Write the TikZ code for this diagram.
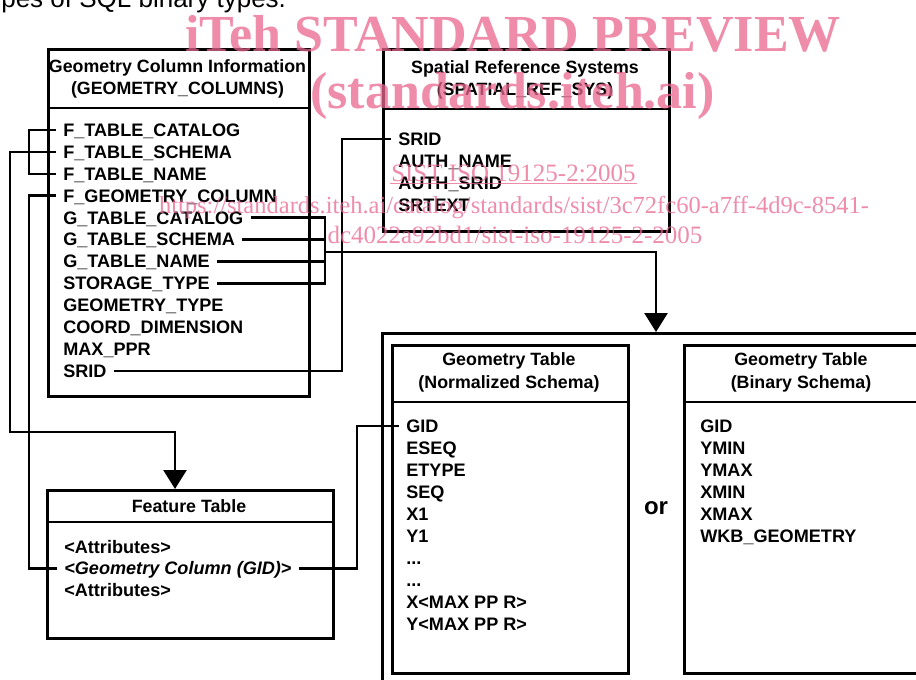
\documentclass[tikz,border=0pt]{standalone}
\usepackage{fontspec}
\setmainfont{Liberation Sans}
\newfontfamily\wmfont{Liberation Serif}
\usetikzlibrary{arrows.meta}
\definecolor{wmpink}{RGB}{232,102,142}
\begin{document}
\begin{tikzpicture}[x=1pt,y=-1pt,line width=2.6pt,
  box/.style={draw,line width=2.6pt,anchor=north west,inner sep=0pt},
  row/.style={anchor=west,inner xsep=6pt,inner ysep=0pt,text height=12.95pt,text depth=0pt,font=\fontsize{18.1}{22}\selectfont\bfseries},
  head/.style={anchor=center,inner sep=0pt,text height=12.74pt,text depth=0pt,font=\fontsize{17.8}{22}\selectfont\bfseries},
  conn/.style={line width=2.6pt},
  arr/.style={-{Triangle[width=23pt,length=19pt]}},
  wm/.style={text=wmpink,text opacity=0.75,inner sep=0pt,anchor=base}]
\useasboundingbox (0,0) rectangle (916,680);
\clip (0,0) rectangle (916,680);

% intro text (cut off at top)
\node[anchor=base west,inner sep=0pt,font=\fontsize{26}{30}\selectfont] (intro) at (0,7) {pes of SQL binary types.};

% ---------- boxes ----------
\node[box,minimum width=261pt,minimum height=347pt] (gc) at (47,48) {};
\draw (47,108) -- (308,108);
\node[box,minimum width=286pt,minimum height=182pt] (srs) at (382,48) {};
\draw (382,109) -- (668,109);
\node[box,minimum width=286pt,minimum height=148pt] (ft) at (46,489) {};
\draw (46,522) -- (332,522);
\node[box,minimum width=560pt,minimum height=380pt] (outer) at (381,332) {};
\node[box,minimum width=236pt,minimum height=328pt] (norm) at (391,344) {};
\draw (391,402) -- (627,402);
\node[box,minimum width=240pt,minimum height=328pt] (bin) at (683,344) {};
\draw (683,402) -- (923,402);

% ---------- headers ----------
\node[head] (gch1) at (177.5,66) {Geometry Column Information};
\node[head] (gch2) at (177.5,88) {(GEOMETRY\_COLUMNS)};
\node[head] (srsh1) at (525,67) {Spatial Reference Systems};
\node[head] (srsh2) at (525,89) {(SPATIAL\_REF\_SYS)};
\node[head] (fth) at (189,506) {Feature Table};
\node[head] (nh1) at (509,359) {Geometry Table};
\node[head] (nh2) at (509,382) {(Normalized Schema)};
\node[head] (bh1) at (801,359) {Geometry Table};
\node[head] (bh2) at (801,382) {(Binary Schema)};
\node[anchor=center,inner sep=0pt,text height=12.5pt,text depth=0pt,font=\fontsize{24}{28}\selectfont\bfseries] (or) at (656,508) {or};

% ---------- GEOMETRY_COLUMNS rows ----------
\node[row] (f1) at (56,130) {F\_TABLE\_CATALOG};
\node[row] (f2) at (56,151.9) {F\_TABLE\_SCHEMA};
\node[row] (f3) at (56,173.8) {F\_TABLE\_NAME};
\node[row] (f4) at (56,195.7) {F\_GEOMETRY\_COLUMN};
\node[row] (g1) at (56,217.6) {G\_TABLE\_CATALOG};
\node[row] (g2) at (56,239.5) {G\_TABLE\_SCHEMA};
\node[row] (g3) at (56,261.4) {G\_TABLE\_NAME};
\node[row] (g4) at (56,283.3) {STORAGE\_TYPE};
\node[row] (g5) at (56,305.2) {GEOMETRY\_TYPE};
\node[row] (g6) at (56,327.1) {COORD\_DIMENSION};
\node[row] (g7) at (56,349) {MAX\_PPR};
\node[row] (g8) at (56,370.9) {SRID};

% ---------- SPATIAL_REF_SYS rows ----------
\node[row] (s1) at (391,139) {SRID};
\node[row] (s2) at (391,161) {AUTH\_NAME};
\node[row] (s3) at (391,183) {AUTH\_SRID};
\node[row] (s4) at (391,205) {SRTEXT};

% ---------- Feature table rows ----------
\node[row] (a1) at (57,547) {<Attributes>};
\node[row] (a2) at (57,568.5) {{\itshape <Geometry Column (GID)}>};
\node[row] (a3) at (57,590) {<Attributes>};

% ---------- Normalized rows ----------
\node[row] (n1) at (399,426) {GID};
\node[row] (n2) at (399,448) {ESEQ};
\node[row] (n3) at (399,470) {ETYPE};
\node[row] (n4) at (399,492) {SEQ};
\node[row] (n5) at (399,514) {X1};
\node[row] (n6) at (399,536) {Y1};
\node[row] (n7) at (399,558) {...};
\node[row] (n8) at (399,580) {...};
\node[row] (n9) at (399,602) {X<MAX PP R>};
\node[row] (n10) at (399,624) {Y<MAX PP R>};

% ---------- Binary rows ----------
\node[row] (b1) at (693,426) {GID};
\node[row] (b2) at (693,448) {YMIN};
\node[row] (b3) at (693,470) {YMAX};
\node[row] (b4) at (693,492) {XMIN};
\node[row] (b5) at (693,514) {XMAX};
\node[row] (b6) at (693,536) {WKB\_GEOMETRY};

% ---------- connectors ----------
\coordinate (ftin) at (175,489);
\coordinate (outin) at (656,332);
\draw[conn] (f1.west) -- (29,130) -- (29,173.8) -- (f3.west);
\draw[conn,arr] (f2.west) -- (10,151.9) -- (10,432) -- (175,432) -- (ftin);
\draw[conn] (f4.west) -- (29,195.7) -- (29,568.5) -- (a2.west);
\draw[conn] (g1.east) -- (325,217.6) -- (325,283.3) -- (g4.east);
\draw[conn] (g2.east) -- (325,239.5);
\draw[conn] (g3.east) -- (325,261.4);
\draw[conn,arr] (325,252) -- (656,252) -- (outin);
\draw[conn] (g8.east) -- (342,370.9) -- (342,139) -- (s1.west);
\draw[conn] (a2.east) -- (357,568.5) -- (357,426) -- (n1.west);

% ---------- watermark ----------
\node[wm,font=\wmfont\bfseries\fontsize{52}{60}\selectfont] (wm1) at (513,51) {iTeh STANDARD PREVIEW};
\node[wm,font=\wmfont\bfseries\fontsize{52}{60}\selectfont] (wm2) at (512.5,108) {(standards.iteh.ai)};
\node[wm,font=\wmfont\fontsize{25}{30}\selectfont] (wm3) at (513.5,181) {SIST ISO 19125-2:2005};
\draw[wmpink,opacity=0.75,line width=1.5pt] ([yshift=-2.5pt]wm3.base west) -- ([yshift=-2.5pt]wm3.base east);
\node[wm,font=\wmfont\fontsize{24.5}{30}\selectfont] (wm4) at (514,213) {https://standards.iteh.ai/catalog/standards/sist/3c72fc60-a7ff-4d9c-8541-};
\node[wm,font=\wmfont\fontsize{25}{30}\selectfont] (wm5) at (515,243) {dc4022a92bd1/sist-iso-19125-2-2005};
\end{tikzpicture}
\end{document}
